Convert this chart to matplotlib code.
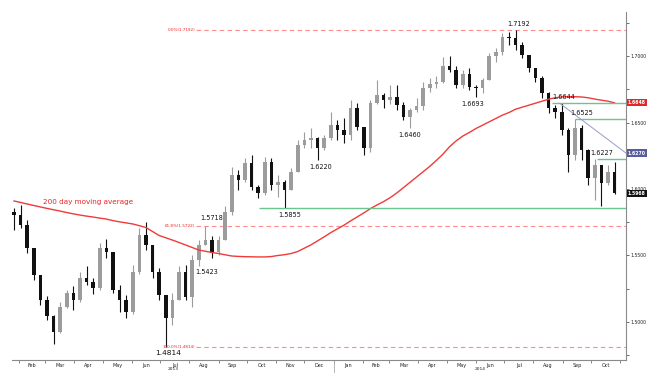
import matplotlib
matplotlib.use("Agg")
import matplotlib.pyplot as plt
import matplotlib.transforms as mtransforms
import numpy as np
import pandas as pd

# ---------------- data (weekly candles) ----------------
first_open = 1.5827
highs = [1.5857, 1.5880, 1.5767, 1.5556, 1.5353, 1.5195, 1.5052, 1.5150, 1.5240, 1.5271,
         1.5376, 1.5421, 1.5331, 1.5594, 1.5624, 1.5526, 1.5278, 1.5203, 1.5428, 1.5707,
         1.5752, 1.5579, 1.5406, 1.5203, 1.5218, 1.5421, 1.5428, 1.5504, 1.5617, 1.5718,
         1.5647, 1.5647, 1.5872, 1.6165, 1.6143, 1.6233, 1.6259, 1.6030, 1.6241, 1.6233,
         1.6105, 1.6068, 1.6158, 1.6368, 1.6429, 1.6459, 1.6391, 1.6406, 1.6579, 1.6519,
         1.6534, 1.6669, 1.6647, 1.6466, 1.6669, 1.6820, 1.6722, 1.6782, 1.6782, 1.6654,
         1.6609, 1.6684, 1.6805, 1.6835, 1.6850, 1.6993, 1.7000, 1.6925, 1.6895, 1.6910,
         1.6782, 1.6835, 1.7023, 1.7060, 1.7173, 1.7181, 1.7192, 1.7105, 1.7008, 1.6910,
         1.6850, 1.6730, 1.6632, 1.6644, 1.6459, 1.6525, 1.6481, 1.6300, 1.6227, 1.6180,
         1.6180, 1.6203]
lows = [1.5692, 1.5707, 1.5519, 1.5316, 1.5128, 1.5015, 1.4834, 1.4920, 1.5105, 1.5090,
        1.5150, 1.5278, 1.5210, 1.5240, 1.5481, 1.5218, 1.5075, 1.5030, 1.5060, 1.5360,
        1.5541, 1.5331, 1.5165, 1.4814, 1.4977, 1.5165, 1.5165, 1.5113, 1.5423, 1.5579,
        1.5481, 1.5504, 1.5617, 1.5805, 1.5992, 1.6053, 1.5992, 1.5932, 1.5955, 1.5992,
        1.5940, 1.5855, 1.5992, 1.6128, 1.6308, 1.6308, 1.6220, 1.6293, 1.6370, 1.6368,
        1.6346, 1.6368, 1.6444, 1.6256, 1.6278, 1.6640, 1.6609, 1.6639, 1.6594, 1.6519,
        1.6460, 1.6579, 1.6594, 1.6729, 1.6760, 1.6795, 1.6880, 1.6760, 1.6760, 1.6745,
        1.6693, 1.6722, 1.6820, 1.6955, 1.7008, 1.7083, 1.7045, 1.6985, 1.6880, 1.6805,
        1.6684, 1.6572, 1.6534, 1.6406, 1.6128, 1.6218, 1.6218, 1.6030, 1.5917, 1.5875,
        1.6030, 1.5960]
closes = [1.5805, 1.5729, 1.5556, 1.5353, 1.5165, 1.5045, 1.4925, 1.5113, 1.5218, 1.5165,
          1.5331, 1.5301, 1.5256, 1.5556, 1.5526, 1.5240, 1.5165, 1.5075, 1.5376, 1.5654,
          1.5579, 1.5376, 1.5203, 1.5030, 1.5165, 1.5376, 1.5188, 1.5466, 1.5579, 1.5617,
          1.5526, 1.5617, 1.5827, 1.6105, 1.6068, 1.6196, 1.6015, 1.5970, 1.6203, 1.6030,
          1.6053, 1.5992, 1.6128, 1.6331, 1.6368, 1.6384, 1.6308, 1.6384, 1.6481, 1.6444,
          1.6406, 1.6609, 1.6466, 1.6308, 1.6647, 1.6707, 1.6669, 1.6692, 1.6632, 1.6541,
          1.6594, 1.6624, 1.6760, 1.6790, 1.6805, 1.6925, 1.6895, 1.6782, 1.6865, 1.6767,
          1.6760, 1.6820, 1.7000, 1.7030, 1.7143, 1.7136, 1.7083, 1.7008, 1.6910, 1.6835,
          1.6722, 1.6609, 1.6579, 1.6444, 1.6256, 1.6459, 1.6293, 1.6083, 1.6180, 1.6045,
          1.6128, 1.5968]
ma200 = [1.5910, 1.5899, 1.5887, 1.5876, 1.5865, 1.5854, 1.5844, 1.5834, 1.5823, 1.5813,
         1.5804, 1.5796, 1.5789, 1.5781, 1.5774, 1.5762, 1.5753, 1.5745, 1.5737, 1.5724,
         1.5710, 1.5680, 1.5650, 1.5633, 1.5616, 1.5598, 1.5579, 1.5560, 1.5541, 1.5532,
         1.5522, 1.5515, 1.5505, 1.5496, 1.5493, 1.5491, 1.5490, 1.5489, 1.5489, 1.5492,
         1.5500, 1.5506, 1.5515, 1.5530, 1.5555, 1.5580, 1.5610, 1.5640, 1.5672, 1.5700,
         1.5728, 1.5760, 1.5790, 1.5820, 1.5852, 1.5880, 1.5905, 1.5935, 1.5970, 1.6010,
         1.6050, 1.6090, 1.6130, 1.6170, 1.6215, 1.6262, 1.6318, 1.6362, 1.6398, 1.6425,
         1.6455, 1.6480, 1.6505, 1.6530, 1.6555, 1.6575, 1.6600, 1.6615, 1.6630, 1.6645,
         1.6660, 1.6675, 1.6686, 1.6692, 1.6694, 1.6694, 1.6692, 1.6686, 1.6676, 1.6668,
         1.6660, 1.6648]

fib_labels = ["0.0%(1.7192)", "61.8%(1.5722)", "100.0%(1.4814)"]
fib_levels = [1.7192, 1.5722, 1.4814]
support_levels = [1.6644, 1.6525, 1.6227, 1.5855]
trend_values = [1.6644, 1.6270]
swing_labels = ["1.7192", "1.6693", "1.6644", "1.6525", "1.6227", "1.6460",
                "1.6220", "1.5855", "1.5718", "1.5423", "1.4814"]
swing_values = [1.7192, 1.6693, 1.6644, 1.6525, 1.6227, 1.6460,
                1.6220, 1.5855, 1.5718, 1.5423, 1.4814]
ytick_vals = [1.50, 1.55, 1.60, 1.65, 1.70]
ytick_labels = ["1.5000", "1.5500", "1.6000", "1.6500", "1.7000"]

# ---------------- figure ----------------
W, H = 659, 375
fig = plt.figure(figsize=(W / 100, H / 100), dpi=100)
ax = fig.add_axes([12 / W, 15 / H, (626 - 12) / W, (360 - 12) / H])

n = len(closes)
x = np.arange(n)
opens = [first_open] + closes[:-1]
o = np.array(opens); c = np.array(closes); hi = np.array(highs); lo = np.array(lows)
up = c >= o
col_up, col_dn = "#9c9c9c", "#111111"
colors = np.where(up, col_up, col_dn)
ax.vlines(x, lo, hi, colors=colors, lw=0.8, zorder=3)
body_bottom = np.minimum(o, c)
body_h = np.maximum(np.abs(c - o), 0.0006)
ax.bar(x, body_h, bottom=body_bottom, width=0.55, color=colors, lw=0, zorder=4)

# 200 day MA
ax.plot(x, ma200, color="#ee3b3b", lw=1.0, zorder=5)
ax.text(11.2, 1.5900, "200 day moving average", color="#ee2222", fontsize=5.2,
        ha="center", va="center")

# fib lines
fib_x0 = 27.6
xmax = 92.73
for lab, lv in zip(fib_labels, fib_levels):
    ax.hlines(lv, fib_x0, xmax, colors="#ff8c8c", lw=0.8, linestyles=(0, (4, 3)), zorder=2)
    ax.text(fib_x0 - 0.1, lv, lab, color="#ee2222", fontsize=3.0, ha="right", va="center")

# support / resistance lines (green)
support_start = [81.5, 85.0, 88.3, 37.1]
for lv, xs in zip(support_levels, support_start):
    ax.hlines(lv, xs, xmax, colors="#6cc48f", lw=1.0, zorder=6)

# trendline
ax.plot([82.7, xmax], trend_values, color="#9a9ac8", lw=0.7, zorder=6)

# swing labels
label_pos = [(76.4, 6), (69.5, -7), (83.3, 6), (86.0, 6), (89.1, 6), (60.0, -7),
             (46.4, -7), (41.7, -7), (30.0, 8), (29.2, -6), (23.3, -6)]
for lab, v, (xp, dy) in zip(swing_labels, swing_values, label_pos):
    fs = 5.4 if lab == "1.4814" else 4.7
    ax.annotate(lab, (xp, v), xytext=(0, dy), textcoords="offset pixels",
                ha="center", va="center", fontsize=fs, color="#111111", zorder=8)

# right boxed labels
trans_r = mtransforms.blended_transform_factory(ax.transAxes, ax.transData)
for val, fc in [(ma200[-1], "#e02828"), (trend_values[-1], "#5a5aa0"), (closes[-1], "#111111")]:
    ax.text(1.003, val, f"{val:.4f}", transform=trans_r, fontsize=3.3, color="white",
            fontweight="bold", ha="left", va="center", zorder=10, clip_on=False,
            bbox=dict(boxstyle="square,pad=0.25", fc=fc, ec="none"))

# axes limits
ax.set_xlim(-0.3, xmax)
ax.set_ylim(1.4714, 1.7331)

# spines
for s in ["left", "top"]:
    ax.spines[s].set_visible(False)
for s in ["right", "bottom"]:
    ax.spines[s].set_color("#8a8a8a")
    ax.spines[s].set_linewidth(0.8)

# y axis on the right
ax.yaxis.tick_right()
ax.set_yticks(ytick_vals)
ax.set_yticklabels(ytick_labels)
ax.set_yticks(np.arange(1.475, 1.73, 0.05), minor=True)
ax.tick_params(axis="y", which="both", length=2, width=0.6, color="#555555",
               labelsize=3.3, pad=1.5, labelcolor="#222222")

# x axis months
origin = pd.Timestamp("2013-01-27")
def pos(d):
    return (pd.Timestamp(d) - origin).days / 7.0

bounds = pd.date_range("2013-02-01", "2014-11-01", freq="MS")
bpos = [pos(d) for d in bounds]
ax.set_xticks(bpos)
ax.set_xticklabels([])
mid = [(bpos[i] + bpos[i + 1]) / 2 for i in range(len(bpos) - 1)]
ax.set_xticks(mid, minor=True)
ax.set_xticklabels([d.strftime("%b") for d in bounds[:-1]], minor=True)
ax.tick_params(axis="x", which="major", length=2.5, width=0.6, color="#777777")
ax.tick_params(axis="x", which="minor", length=0, labelsize=3.5, pad=2,
               labelcolor="#222222")

# year labels and year boundary tick
trans_b = mtransforms.blended_transform_factory(ax.transData, ax.transAxes)
ybound = pos("2014-01-01")
ax.plot([ybound, ybound], [0, -12 / 348], transform=trans_b, color="#aaaaaa",
        lw=0.6, clip_on=False)
ax.text((ax.get_xlim()[0] + ybound) / 2, -9 / 348, "2013", transform=trans_b,
        fontsize=3.2, ha="center", va="center", color="#222222")
ax.text((ybound + xmax) / 2, -9 / 348, "2014", transform=trans_b,
        fontsize=3.2, ha="center", va="center", color="#222222")

fig.savefig("out.png", dpi=100)
